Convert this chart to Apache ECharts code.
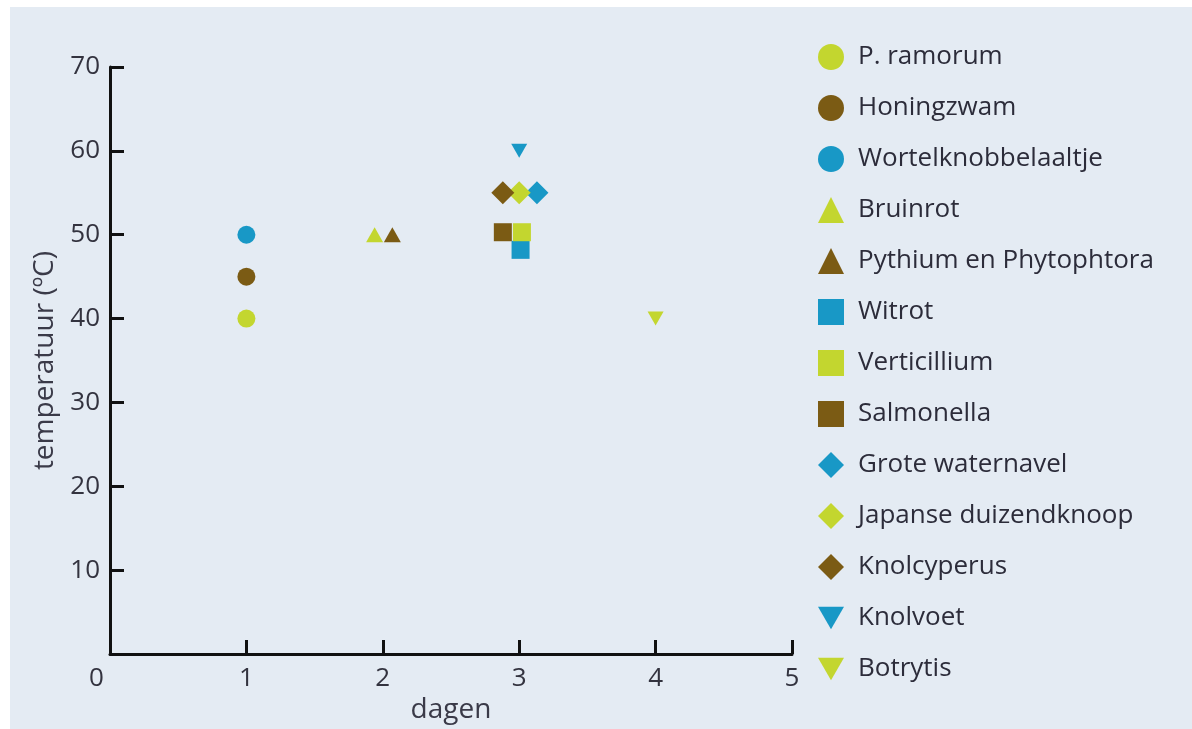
<!DOCTYPE html>
<html><head><meta charset="utf-8">
<script src="https://cdn.jsdelivr.net/npm/echarts@6/dist/echarts.min.js"></script>
<style>
html,body{margin:0;padding:0;background:#fff;width:1192px;height:729px;overflow:hidden;}
#c{position:absolute;left:10px;top:7px;width:1182px;height:722px;background:#e4ebf3;}
</style></head>
<body><div id="c"></div>
<script>
// Data
const seriesNames = ['P. ramorum','Honingzwam','Wortelknobbelaaltje','Bruinrot','Pythium en Phytophtora','Witrot','Verticillium','Salmonella','Grote waternavel','Japanse duizendknoop','Knolcyperus','Knolvoet','Botrytis'];
const xDays = [1, 1, 1, 1.94, 2.07, 3.01, 3.02, 2.88, 3.13, 3.0, 2.88, 3.0, 4.0];
const yTemp = [40, 45, 50, 50, 50, 48.2, 50.3, 50.3, 55, 55, 55, 60, 40];
const xTicks = [0, 1, 2, 3, 4, 5];
const yTicks = [10, 20, 30, 40, 50, 60, 70];

const LIME = '#c3d62f', BROWN = '#7b5b14', BLUE = '#1898c6';
const DOWN = 'path://M0,0 L10,0 L5,8.7 Z';
const colors = [LIME, BROWN, BLUE, LIME, BROWN, BLUE, LIME, BROWN, BLUE, LIME, BROWN, BLUE, LIME];
const symbols = ['circle','circle','circle','triangle','triangle','rect','rect','rect','diamond','diamond','diamond',DOWN,DOWN];
const sizes = [18,18,18,[17,15],[17,15],18,18,18,23,23,23,[16,14],[16,14]];

const chart = echarts.init(document.getElementById('c'), null, {renderer:'canvas'});
const txt = '#33333f';
const font = 'Open Sans';
const series = seriesNames.map((n,i)=>({
  name: n, type:'scatter',
  data: [[xDays[i], yTemp[i]]],
  symbol: symbols[i], symbolSize: sizes[i],
  itemStyle: {color: colors[i], opacity:1},
  emphasis: {disabled:true}
}));
chart.setOption({
  animation:false,
  backgroundColor:'#e4ebf3',
  grid:{left:100, top:60, width:682, height:590, containLabel:false},
  legend:{
    orient:'vertical', left:803, top:32, itemWidth:26, itemHeight:26, itemGap:25,
    textStyle:{fontFamily:font, fontSize:26, color:'#2c2c3a', padding:[0,0,0,9]},
    data: seriesNames.map((n,i)=>({name:n, icon: symbols[i]}))
  },
  xAxis:{
    type:'value', min:0, max:5, interval:1,
    name:'dagen', nameLocation:'middle', nameGap:27,
    nameTextStyle:{fontFamily:font, fontSize:28, color:'#3a3a48'},
    axisLine:{show:true, onZero:false, lineStyle:{color:'#111', width:3}},
    axisTick:{show:true, inside:true, length:14, lineStyle:{color:'#111', width:3}},
    splitLine:{show:false},
    axisLabel:{fontFamily:font, fontSize:26, color:txt, margin:11,
      formatter:(v)=> v===0 ? '{z|0}' : String(v),
      rich:{z:{fontFamily:font, fontSize:26, color:txt, padding:[0,27,0,0]}}}
  },
  yAxis:{
    type:'value', min:0, max:70, interval:10,
    name:'temperatuur (ºC)', nameLocation:'middle', nameGap:48, nameRotate:90,
    nameTextStyle:{fontFamily:font, fontSize:28, color:'#3a3a48'},
    axisLine:{show:true, onZero:false, lineStyle:{color:'#111', width:3}},
    axisTick:{show:true, inside:true, length:14, lineStyle:{color:'#111', width:3}},
    splitLine:{show:false},
    axisLabel:{fontFamily:font, fontSize:26, color:txt, margin:10,
      formatter:(v)=> yTicks.indexOf(v)>=0 ? String(v) : ''}
  },
  series: series
});
</script></body></html>
